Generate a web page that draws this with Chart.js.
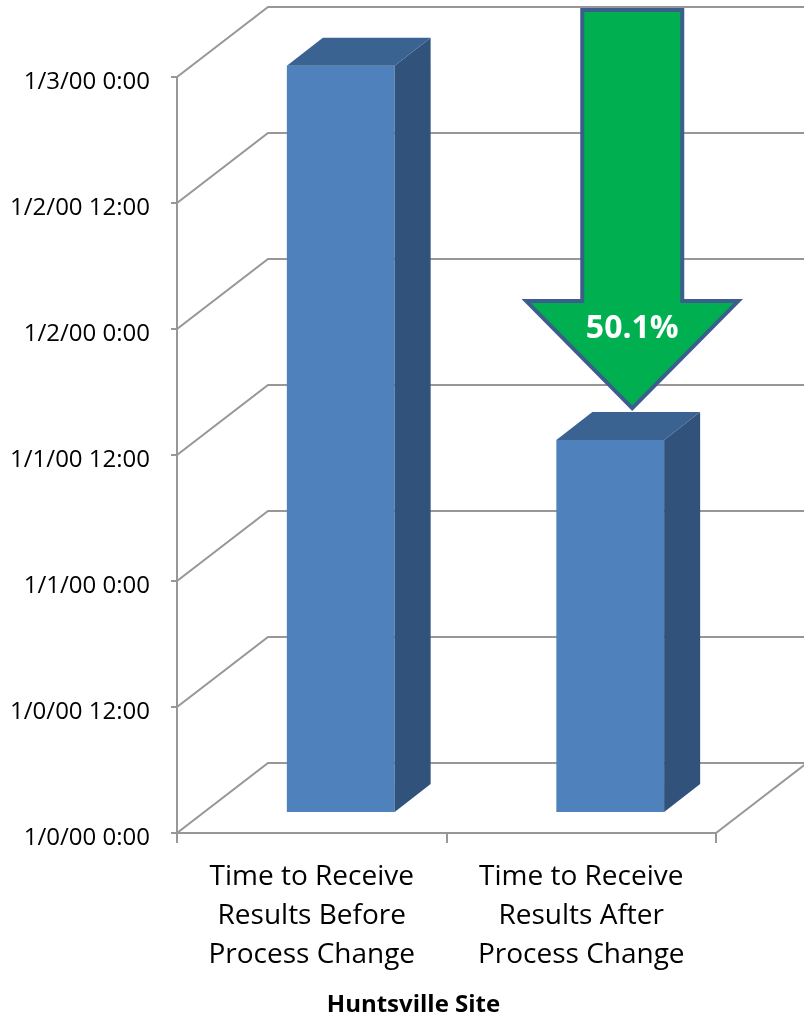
<!DOCTYPE html>
<html lang="en">
<head>
<meta charset="UTF-8">
<title>Huntsville Site</title>
<script src="https://cdn.jsdelivr.net/npm/chart.js@4.4.1/dist/chart.umd.min.js"></script>
<style>
    body { margin: 0; background: #fff; }
    #wrap { width: 804px; height: 1017px; position: relative; }
</style>
</head>
<body>
<div id="wrap"><canvas id="chart"></canvas></div>
<script>
// data (values in days from 1/0/00 0:00)
var categories = [
    ['Time to Receive', 'Results Before', 'Process Change'],
    ['Time to Receive', 'Results After', 'Process Change']
];
var daysToResults = [2.965, 1.48];
var axisTitle = 'Huntsville Site';

// 3d look
var depthX = 91, depthY = -70;   // back wall offset
var shiftX = 29, shiftY = -20;   // bars sit a bit into the box
var sideX = 36, sideY = -28;     // bar thickness
var lineGrey = '#979797';

function tickLabel(v) {
    var day = Math.floor(v + 1e-9);
    var hours = Math.round((v - day) * 24);
    return '1/' + day + '/00 ' + hours + ':00';
}

var box3d = {
    id: 'box3d',
    beforeDatasetsDraw: function (chart) {
        var ctx = chart.ctx, a = chart.chartArea, y = chart.scales.y;
        ctx.save();
        ctx.strokeStyle = lineGrey;
        ctx.lineWidth = 2;
        y.ticks.forEach(function (t) {
            var py = y.getPixelForValue(t.value);
            ctx.beginPath();
            ctx.moveTo(a.left, py);
            ctx.lineTo(a.left + depthX, py + depthY);
            ctx.lineTo(a.right + depthX + 10, py + depthY);
            ctx.stroke();
        });
        // right edge of the floor
        ctx.beginPath();
        ctx.moveTo(a.right, a.bottom);
        ctx.lineTo(a.right + depthX, a.bottom + depthY);
        ctx.stroke();
        ctx.restore();

        ctx.save();
        ctx.translate(shiftX, shiftY);
    },
    afterDatasetsDraw: function (chart) {
        var ctx = chart.ctx;
        var bars = chart.getDatasetMeta(0).data;
        bars.forEach(function (b) {
            var p = b.getProps(['x', 'y', 'base', 'width'], true);
            var l = p.x - p.width / 2, r = p.x + p.width / 2;
            ctx.fillStyle = '#31527a';
            ctx.beginPath();
            ctx.moveTo(r, p.y);
            ctx.lineTo(r + sideX, p.y + sideY);
            ctx.lineTo(r + sideX, p.base + sideY);
            ctx.lineTo(r, p.base);
            ctx.closePath();
            ctx.fill();
            ctx.fillStyle = '#3b6392';
            ctx.beginPath();
            ctx.moveTo(l, p.y);
            ctx.lineTo(l + sideX, p.y + sideY);
            ctx.lineTo(r + sideX, p.y + sideY);
            ctx.lineTo(r, p.y);
            ctx.closePath();
            ctx.fill();
        });
        ctx.restore();

        // down arrow onto the second bar
        var b2 = bars[1].getProps(['x', 'y'], true);
        var tipX = b2.x + shiftX + sideX / 2 + 4;
        var tipY = b2.y + shiftY + sideY - 4;
        var topY = chart.chartArea.top + depthY + 3;
        var headY = tipY - 107;
        ctx.save();
        ctx.beginPath();
        ctx.moveTo(tipX - 50, topY);
        ctx.lineTo(tipX + 50, topY);
        ctx.lineTo(tipX + 50, headY);
        ctx.lineTo(tipX + 106, headY);
        ctx.lineTo(tipX, tipY);
        ctx.lineTo(tipX - 106, headY);
        ctx.lineTo(tipX - 50, headY);
        ctx.closePath();
        ctx.fillStyle = '#00b050';
        ctx.fill();
        ctx.lineWidth = 4;
        ctx.lineJoin = 'miter';
        ctx.strokeStyle = '#3b5e8c';
        ctx.stroke();

        var pct = (1 - daysToResults[1] / daysToResults[0]) * 100;
        ctx.fillStyle = '#ffffff';
        ctx.font = 'bold 32px "Open Sans"';
        ctx.textAlign = 'center';
        ctx.textBaseline = 'middle';
        ctx.fillText(pct.toFixed(1) + '%', tipX, headY + 28);
        ctx.restore();
    },
    afterDraw: function (chart) {
        // axis title sits a little left of the axis centre, as in the original
        var ctx = chart.ctx, a = chart.chartArea;
        ctx.save();
        ctx.fillStyle = '#000';
        ctx.font = 'bold 24px "Open Sans"';
        ctx.textAlign = 'center';
        ctx.textBaseline = 'alphabetic';
        ctx.fillText(axisTitle, (a.left + a.right) / 2 - 33, chart.height - 5);
        ctx.restore();
    }
};

new Chart(document.getElementById('chart'), {
    type: 'bar',
    data: {
        labels: categories,
        datasets: [{
            data: daysToResults,
            backgroundColor: '#4f81bd',
            borderWidth: 0,
            categoryPercentage: 1,
            barPercentage: 0.4,
            clip: false
        }]
    },
    options: {
        responsive: true,
        maintainAspectRatio: false,
        animation: false,
        layout: { padding: { top: 77, right: 88, left: 0, bottom: 3 } },
        plugins: { legend: { display: false }, tooltip: { enabled: false } },
        scales: {
            y: {
                min: 0,
                max: 3,
                ticks: {
                    stepSize: 0.5,
                    padding: 21,
                    labelOffset: 5,
                    color: '#000',
                    font: { family: 'Open Sans', size: 24 },
                    callback: function (v) { return tickLabel(v); }
                },
                grid: { drawOnChartArea: false, tickLength: 6, color: lineGrey, lineWidth: 2 },
                border: { display: true, color: lineGrey, width: 2 },
                afterFit: function (s) { s.width = 177; }
            },
            x: {
                ticks: {
                    padding: 14,
                    color: '#000',
                    maxRotation: 0,
                    font: { family: 'Open Sans', size: 28, lineHeight: 1.4 }
                },
                grid: { drawOnChartArea: false, tickLength: 10, color: lineGrey, lineWidth: 2, offset: true },
                border: { display: true, color: lineGrey, width: 2 },
                afterFit: function (s) { s.height = 181; }
            }
        }
    },
    plugins: [box3d]
});
</script>
</body>
</html>
